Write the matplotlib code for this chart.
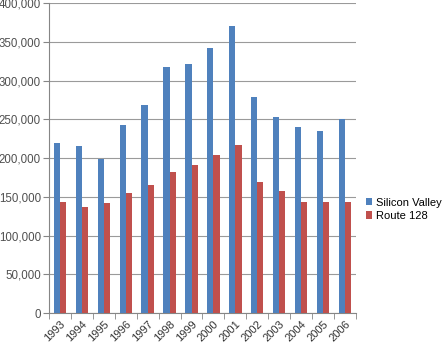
import matplotlib
matplotlib.use("Agg")
import matplotlib.pyplot as plt
import numpy as np
from matplotlib.ticker import FuncFormatter, FixedLocator

years = ["1993", "1994", "1995", "1996", "1997", "1998", "1999",
         "2000", "2001", "2002", "2003", "2004", "2005", "2006"]
silicon_valley = [220000, 215500, 198500, 242500, 268500, 317500, 321500,
                  342500, 370500, 279500, 253000, 240000, 235500, 251000]
route_128 = [143500, 137000, 142500, 154500, 165000, 181500, 190500,
             203500, 217500, 169000, 157000, 143000, 144000, 143000]

plt.rcParams['font.family'] = ['Liberation Sans', 'DejaVu Sans']

fig = plt.figure(figsize=(4.47, 3.46), dpi=100)
ax = fig.add_axes([0.11, 0.095, 0.686, 0.896])

x = np.arange(len(years))
w = 0.285
ax.bar(x - w/2, silicon_valley, w, color="#4F81BD", label="Silicon Valley", zorder=3)
ax.bar(x + w/2, route_128, w, color="#C0504D", label="Route 128", zorder=3)

ax.set_xlim(-0.5, len(years) - 0.5)
ax.set_ylim(0, 400000)
ax.set_yticks(np.arange(0, 400001, 50000))
ax.yaxis.set_major_formatter(FuncFormatter(lambda v, p: f"{int(v):,}"))
ax.grid(axis="y", color="#9a9a9a", linewidth=0.8, zorder=0)

ax.set_xticks(x)
ax.set_xticklabels(years, rotation=45, ha="right", rotation_mode="anchor", fontsize=8, color="#333333")
ax.tick_params(axis="x", length=0, pad=4)
ax.xaxis.set_minor_locator(FixedLocator(np.arange(-0.5, len(years), 1.0)))
ax.tick_params(axis="x", which="minor", length=4, color="#868686")
ax.tick_params(axis="y", labelsize=8.3, labelcolor="#505050", length=4, color="#868686", pad=2)

for s in ["top", "right"]:
    ax.spines[s].set_visible(False)
for s in ["left", "bottom"]:
    ax.spines[s].set_color("#868686")

ax.legend(loc="center left", bbox_to_anchor=(1.0, 0.335), frameon=False,
          fontsize=8, handlelength=0.6, handleheight=0.6, handletextpad=0.3,
          labelspacing=0.3, borderaxespad=0.5)

fig.savefig("out.png", dpi=100)
